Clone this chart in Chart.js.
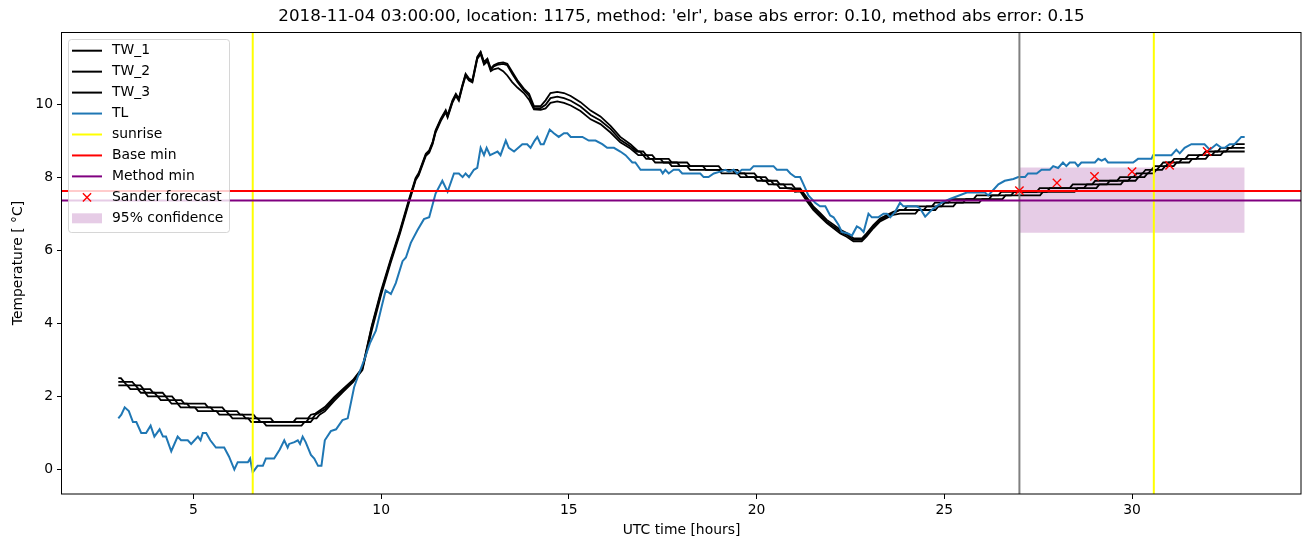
<!DOCTYPE html>
<html>
<head>
<meta charset="utf-8">
<script src="https://cdn.jsdelivr.net/npm/chart.js@4.4.0/dist/chart.umd.min.js"></script>
<style>
  html, body { margin: 0; padding: 0; background: #fff; }
  #wrap { width: 1310px; height: 547px; }
</style>
</head>
<body>
<div id="wrap"><canvas id="chart" width="1310" height="547"></canvas></div>
<script>
// ---- data ----
const TITLE = "2018-11-04 03:00:00, location: 1175, method: 'elr', base abs error: 0.10, method abs error: 0.15";

const X_MIN = 1.5, X_MAX = 34.5;
const Y_MIN = -0.67, Y_MAX = 11.97;
const xTicks = [5, 10, 15, 20, 25, 30];
const yTicks = [0, 2, 4, 6, 8, 10];

// wet bulb sensors (0.1 degree resolution, so flat runs with short steps)
const tw1Time = [
  3.00, 3.07, 3.15, 3.37, 3.45, 3.59, 3.67, 3.85, 3.93, 4.18, 4.26, 4.43, 4.51, 4.68, 4.76, 5.31,
  5.39, 5.77, 5.85, 6.16, 6.24, 6.60, 6.68, 7.06, 7.14, 7.66, 7.74, 8.05, 8.13, 8.25,
  8.50, 8.75, 9.00, 9.25, 9.50, 9.75, 10.00, 10.25, 10.50, 10.75, 10.92, 11.00, 11.19, 11.28, 11.37, 11.45,
  11.59, 11.72, 11.77, 11.90, 11.99, 12.07, 12.16, 12.25, 12.34, 12.43, 12.56, 12.65, 12.74, 12.83, 12.92, 13.00,
  13.12, 13.25, 13.36, 13.49, 13.63, 13.80, 13.94, 14.07, 14.25, 14.38, 14.51, 14.69, 14.87, 15.05, 15.31, 15.58,
  15.84, 16.11, 16.37, 16.64,
  16.85, 16.98, 17.06, 17.22, 17.30, 17.66, 17.74, 18.15, 18.23, 18.99, 19.07, 19.49, 19.57, 19.94, 20.02, 20.24,
  20.32, 20.54, 20.62, 20.94, 21.02, 21.16,
  21.34, 21.51, 21.69, 21.87, 22.05, 22.23, 22.40, 22.58, 22.80, 22.93, 23.11, 23.29, 23.47, 23.64, 23.82,
  23.93, 24.01, 24.67, 24.75, 25.11, 25.19, 25.78, 25.86, 26.44, 26.52, 27.46, 27.54, 28.34, 28.42, 28.94, 29.02,
  29.60, 29.68, 30.04, 30.12, 30.28, 30.36, 30.52, 30.60, 30.75, 30.83, 31.04, 31.12, 31.42, 31.50, 31.88, 31.96,
  32.28, 32.36, 32.65, 32.73, 33.00
];
const tw1 = [
  2.5, 2.5, 2.4, 2.4, 2.3, 2.3, 2.2, 2.2, 2.1, 2.1, 2.0, 2.0, 1.9, 1.9, 1.8, 1.8,
  1.7, 1.7, 1.6, 1.6, 1.5, 1.5, 1.4, 1.4, 1.3, 1.3, 1.4, 1.4, 1.5, 1.53,
  1.71, 1.98, 2.22, 2.45, 2.78, 3.93, 4.90, 5.74, 6.54, 7.42, 7.98, 8.11, 8.64, 8.73, 8.96, 9.28,
  9.60, 9.83, 9.69, 10.10, 10.28, 10.15, 10.51, 10.83, 10.70, 10.65, 11.29, 11.43, 11.15, 11.24, 10.97, 11.06,
  11.12, 11.14, 11.10, 10.88, 10.65, 10.42, 10.28, 9.94, 9.94, 10.10, 10.30, 10.33, 10.30, 10.22, 10.05, 9.82,
  9.66, 9.40, 9.10, 8.90,
  8.7, 8.7, 8.6, 8.6, 8.5, 8.5, 8.4, 8.4, 8.3, 8.3, 8.2, 8.2, 8.1, 8.1, 8.0, 8.0,
  7.9, 7.9, 7.8, 7.8, 7.7, 7.69,
  7.44, 7.20, 7.02, 6.83, 6.70, 6.56, 6.47, 6.33, 6.32, 6.46, 6.69, 6.87, 6.96, 7.05, 7.1,
  7.1, 7.2, 7.2, 7.3, 7.3, 7.4, 7.4, 7.5, 7.5, 7.6, 7.6, 7.7, 7.7, 7.8, 7.8, 7.9,
  7.9, 8.0, 8.0, 8.1, 8.1, 8.2, 8.2, 8.3, 8.3, 8.4, 8.4, 8.5, 8.5, 8.6, 8.6, 8.7,
  8.7, 8.8, 8.8, 8.9, 8.9
];

const tw2Time = [
  3.00, 3.15, 3.23, 3.46, 3.54, 3.65, 3.73, 3.96, 4.04, 4.26, 4.34, 4.51, 4.59, 4.83, 4.91, 5.46,
  5.54, 5.87, 5.95, 6.31, 6.39, 6.71, 6.79, 8.00, 8.08, 8.17, 8.25,
  8.50, 8.75, 9.00, 9.25, 9.50, 9.75, 10.00, 10.25, 10.50, 10.75, 10.92, 11.00, 11.19, 11.28, 11.37, 11.45,
  11.59, 11.72, 11.77, 11.90, 11.99, 12.07, 12.16, 12.25, 12.34, 12.43, 12.56, 12.65, 12.74, 12.83, 12.92, 13.00,
  13.12, 13.25, 13.36, 13.49, 13.63, 13.80, 13.94, 14.07, 14.25, 14.38, 14.51, 14.69, 14.87, 15.05, 15.31, 15.58,
  15.84, 16.11, 16.37, 16.64,
  16.80, 16.89, 16.97, 17.07, 17.15, 17.44, 17.52, 17.88, 17.96, 18.57, 18.65, 19.35, 19.43, 19.68, 19.76, 20.09,
  20.17, 20.38, 20.46, 20.72, 20.80, 21.16,
  21.34, 21.51, 21.69, 21.87, 22.05, 22.23, 22.40, 22.58, 22.80, 22.93, 23.11, 23.29, 23.47, 23.64, 23.82,
  24.45, 24.53, 24.93, 25.01, 25.50, 25.58, 26.19, 26.27, 26.78, 26.86, 27.73, 27.81, 28.72, 28.80, 29.33,
  29.41, 29.89, 29.97, 30.19, 30.27, 30.43, 30.51, 30.66, 30.74, 30.90, 30.98, 31.25, 31.33, 31.71, 31.79, 32.13,
  32.21, 32.50, 32.58, 33.00
];
const tw2 = [
  2.4, 2.4, 2.3, 2.3, 2.2, 2.2, 2.1, 2.1, 2.0, 2.0, 1.9, 1.9, 1.8, 1.8, 1.7, 1.7,
  1.6, 1.6, 1.5, 1.5, 1.4, 1.4, 1.3, 1.3, 1.4, 1.4, 1.5,
  1.65, 1.93, 2.18, 2.42, 2.75, 3.90, 4.85, 5.70, 6.50, 7.38, 7.95, 8.08, 8.61, 8.70, 8.93, 9.25,
  9.57, 9.80, 9.66, 10.07, 10.25, 10.12, 10.48, 10.80, 10.67, 10.62, 11.26, 11.41, 11.12, 11.21, 10.94, 11.03,
  11.08, 11.10, 11.06, 10.83, 10.60, 10.37, 10.22, 9.89, 9.89, 9.98, 10.16, 10.20, 10.16, 10.09, 9.93, 9.70,
  9.55, 9.32, 9.02, 8.84,
  8.7, 8.7, 8.6, 8.6, 8.5, 8.5, 8.4, 8.4, 8.3, 8.3, 8.2, 8.2, 8.1, 8.1, 8.0, 8.0,
  7.9, 7.9, 7.8, 7.8, 7.7, 7.65,
  7.38, 7.15, 6.97, 6.78, 6.65, 6.51, 6.42, 6.28, 6.28, 6.42, 6.65, 6.83, 6.92, 7.01, 7.1,
  7.1, 7.2, 7.2, 7.3, 7.3, 7.4, 7.4, 7.5, 7.5, 7.6, 7.6, 7.7, 7.7, 7.8, 7.8,
  7.9, 7.9, 8.0, 8.0, 8.1, 8.1, 8.2, 8.2, 8.3, 8.3, 8.4, 8.4, 8.5, 8.5, 8.6, 8.6,
  8.7, 8.7, 8.8, 8.8
];

const tw3Time = [
  3.00, 3.24, 3.32, 3.52, 3.60, 3.71, 3.79, 4.05, 4.13, 4.34, 4.42, 4.58, 4.66, 5.04, 5.12, 5.61,
  5.69, 5.96, 6.04, 6.46, 6.54, 6.86, 6.94, 7.88, 7.96, 8.12, 8.20, 8.28, 8.36,
  8.50, 8.75, 9.00, 9.25, 9.50, 9.75, 10.00, 10.25, 10.50, 10.75, 10.92, 11.00, 11.19, 11.28, 11.37, 11.45,
  11.59, 11.72, 11.77, 11.90, 11.99, 12.07, 12.16, 12.25, 12.34, 12.43, 12.56, 12.65, 12.74, 12.83, 12.92, 13.00,
  13.12, 13.25, 13.36, 13.49, 13.63, 13.80, 13.94, 14.07, 14.25, 14.38, 14.51, 14.69, 14.87, 15.05, 15.31, 15.58,
  15.84, 16.11, 16.37, 16.64,
  16.85, 16.98, 17.06, 17.22, 17.30, 17.66, 17.74, 18.15, 18.23, 18.99, 19.07, 19.49, 19.57, 19.94, 20.02, 20.24,
  20.32, 20.54, 20.62, 20.94, 21.02, 21.16,
  21.34, 21.51, 21.69, 21.87, 22.05, 22.23, 22.40, 22.58, 22.80, 22.93, 23.11, 23.29, 23.47, 23.64, 23.82,
  24.23, 24.31, 24.76, 24.84, 25.24, 25.32, 25.93, 26.01, 26.55, 26.63, 27.55, 27.63, 28.47, 28.55, 29.05, 29.13,
  29.70, 29.78, 30.09, 30.17, 30.33, 30.41, 30.57, 30.65, 30.80, 30.88, 31.11, 31.19, 31.52, 31.60, 31.96, 32.04,
  32.36, 32.44, 33.00
];
const tw3 = [
  2.3, 2.3, 2.2, 2.2, 2.1, 2.1, 2.0, 2.0, 1.9, 1.9, 1.8, 1.8, 1.7, 1.7, 1.6, 1.6,
  1.5, 1.5, 1.4, 1.4, 1.3, 1.3, 1.2, 1.2, 1.3, 1.3, 1.4, 1.4, 1.5,
  1.59, 1.88, 2.14, 2.39, 2.72, 3.80, 4.78, 5.64, 6.45, 7.33, 7.92, 8.05, 8.58, 8.67, 8.90, 9.22,
  9.54, 9.77, 9.63, 10.04, 10.22, 10.09, 10.45, 10.77, 10.64, 10.59, 11.23, 11.37, 11.08, 11.17, 10.90, 10.95,
  10.98, 10.90, 10.78, 10.60, 10.45, 10.30, 10.12, 9.85, 9.84, 9.88, 10.03, 10.07, 10.03, 9.96, 9.81, 9.58,
  9.45, 9.22, 8.95, 8.78,
  8.6, 8.6, 8.5, 8.5, 8.4, 8.4, 8.3, 8.3, 8.2, 8.2, 8.1, 8.1, 8.0, 8.0, 7.9, 7.9,
  7.8, 7.8, 7.7, 7.7, 7.6, 7.61,
  7.34, 7.10, 6.92, 6.74, 6.60, 6.46, 6.37, 6.24, 6.24, 6.38, 6.60, 6.79, 6.88, 6.97, 7.0,
  7.0, 7.1, 7.1, 7.2, 7.2, 7.3, 7.3, 7.4, 7.4, 7.5, 7.5, 7.6, 7.6, 7.7, 7.7, 7.8,
  7.8, 7.9, 7.9, 8.0, 8.0, 8.1, 8.1, 8.2, 8.2, 8.3, 8.3, 8.4, 8.4, 8.5, 8.5, 8.6,
  8.6, 8.7, 8.7
];

// air temperature
const tlTime = [
  3.00, 3.08, 3.17, 3.28, 3.39, 3.48, 3.61, 3.74, 3.86, 3.96, 4.10, 4.19, 4.27, 4.41, 4.58, 4.67,
  4.85, 4.94, 5.12, 5.19, 5.25, 5.34, 5.45, 5.60, 5.82, 5.95, 6.09, 6.18, 6.45, 6.51, 6.58, 6.71,
  6.85, 6.93, 7.15, 7.30, 7.42, 7.51, 7.55, 7.69, 7.78, 7.84, 7.91, 7.99, 8.13, 8.22, 8.32, 8.41,
  8.50, 8.66, 8.80, 8.97, 9.11, 9.28, 9.40, 9.55, 9.70, 9.86, 10.00, 10.12, 10.26, 10.39, 10.57, 10.66,
  10.79, 10.97, 11.14, 11.28, 11.45, 11.63, 11.77, 11.94, 12.07, 12.17, 12.25, 12.34, 12.47, 12.56,
  12.65, 12.74, 12.81, 12.90, 13.00, 13.10, 13.18, 13.32, 13.40, 13.54, 13.76, 13.89, 13.98, 14.09,
  14.16, 14.25, 14.33, 14.49, 14.60, 14.73, 14.87, 14.96, 15.05, 15.36, 15.53, 15.71, 15.89, 16.02,
  16.20, 16.37, 16.51, 16.69, 16.77, 16.91, 17.17, 17.44, 17.50, 17.57, 17.66, 17.79, 17.93, 18.02,
  18.50, 18.59, 18.72, 18.86, 19.03, 19.17, 19.26, 19.39, 19.48, 19.61, 19.83, 19.92, 20.45, 20.54,
  20.81, 20.90, 21.03, 21.16, 21.25, 21.38, 21.56, 21.69, 21.83, 21.96, 22.05, 22.18, 22.27, 22.45,
  22.54, 22.67, 22.76, 22.85, 22.98, 23.07, 23.24, 23.38, 23.47, 23.56, 23.69, 23.82, 23.91, 24.27,
  24.35, 24.49, 24.66, 24.93, 25.15, 25.60, 26.08, 26.17, 26.26, 26.44, 26.61, 26.84, 26.97, 27.15,
  27.23, 27.46, 27.59, 27.81, 27.90, 28.03, 28.16, 28.25, 28.34, 28.48, 28.56, 28.65, 29.01, 29.10,
  29.19, 29.28, 29.36, 30.03, 30.16, 30.52, 30.56, 31.05, 31.18, 31.27, 31.40, 31.58, 31.93, 32.07,
  32.25, 32.38, 32.47, 32.60, 32.73, 32.91, 33.00
];
const tl = [
  1.40, 1.50, 1.70, 1.60, 1.30, 1.30, 1.00, 1.00, 1.20, 0.90, 1.10, 0.90, 0.90, 0.50, 0.90, 0.80,
  0.80, 0.70, 0.90, 0.80, 1.00, 1.00, 0.80, 0.60, 0.60, 0.35, 0.00, 0.20, 0.20, 0.30, -0.08, 0.10,
  0.10, 0.30, 0.30, 0.55, 0.80, 0.60, 0.70, 0.75, 0.80, 0.70, 0.90, 0.75, 0.40, 0.30, 0.10, 0.10,
  0.80, 1.05, 1.10, 1.35, 1.40, 2.25, 2.60, 3.00, 3.45, 3.80, 4.40, 4.90, 4.80, 5.10, 5.70, 5.80,
  6.20, 6.55, 6.85, 6.90, 7.55, 7.90, 7.60, 8.10, 8.10, 8.00, 8.10, 8.00, 8.20, 8.25,
  8.80, 8.60, 8.80, 8.60, 8.65, 8.70, 8.60, 9.00, 8.80, 8.70, 8.90, 8.90, 8.80, 9.00,
  9.10, 8.90, 8.90, 9.30, 9.20, 9.10, 9.20, 9.20, 9.10, 9.10, 9.00, 9.00, 8.90, 8.80,
  8.80, 8.70, 8.60, 8.40, 8.40, 8.20, 8.20, 8.20, 8.10, 8.20, 8.10, 8.20, 8.20, 8.10,
  8.10, 8.00, 8.00, 8.10, 8.15, 8.20, 8.15, 8.20, 8.10, 8.20, 8.20, 8.30, 8.30, 8.20,
  8.20, 8.10, 8.00, 8.00, 7.80, 7.50, 7.30, 7.20, 7.20, 6.95, 6.90, 6.70, 6.50, 6.45,
  6.40, 6.65, 6.60, 6.50, 7.00, 6.90, 6.90, 7.00, 7.00, 6.90, 7.05, 7.30, 7.20, 7.20,
  7.15, 6.92, 7.10, 7.30, 7.40, 7.58, 7.58, 7.50, 7.60, 7.80, 7.90, 7.95, 8.00, 8.00,
  8.10, 8.10, 8.20, 8.20, 8.30, 8.25, 8.40, 8.30, 8.40, 8.40, 8.30, 8.40, 8.40, 8.50,
  8.45, 8.50, 8.40, 8.40, 8.50, 8.50, 8.60, 8.60, 8.75, 8.65, 8.80, 8.90, 8.90, 8.75,
  8.90, 8.80, 8.80, 8.90, 8.90, 9.10, 9.10
];

const sunriseTimes = [6.58, 30.58];
const forecastStart = 27;
const baseMin = 7.62;
const methodMin = 7.36;

const sanderTime = [27, 28, 29, 30, 31, 32];
const sanderTemp = [7.63, 7.84, 8.02, 8.15, 8.32, 8.70];

const confTime = [27, 33];
const confLow = 6.48;
const confHigh = 8.26;

// ---- build datasets ----
const FONT = "'DejaVu Sans', Verdana, sans-serif";
const pts = (xs, ys) => xs.map((x, i) => ({ x: x, y: ys[i] }));

function lineSet(label, data, color, order, extra) {
  return Object.assign({
    label: label,
    data: data,
    borderColor: color,
    backgroundColor: color,
    borderWidth: 2,
    pointRadius: 0,
    tension: 0,
    fill: false,
    order: order
  }, extra || {});
}

const datasets = [
  lineSet('TW_1', pts(tw1Time, tw1), '#000000', 20, { inLegend: true, borderWidth: 1.8 }),
  lineSet('TW_2', pts(tw2Time, tw2), '#000000', 19, { inLegend: true, borderWidth: 1.8 }),
  lineSet('TW_3', pts(tw3Time, tw3), '#000000', 18, { inLegend: true, borderWidth: 1.8 }),
  lineSet('TL', pts(tlTime, tl), '#1f77b4', 17, { inLegend: true }),
  lineSet('forecast start', [{ x: forecastStart, y: Y_MIN }, { x: forecastStart, y: Y_MAX }], '#808080', 16)
];
sunriseTimes.forEach((t, i) => {
  datasets.push(lineSet('sunrise', [{ x: t, y: Y_MIN }, { x: t, y: Y_MAX }], '#ffff00', 15 - i,
    { inLegend: i === 0 }));
});
datasets.push(
  lineSet('Base min', [{ x: X_MIN, y: baseMin }, { x: X_MAX, y: baseMin }], '#ff0000', 12, { inLegend: true }),
  lineSet('Method min', [{ x: X_MIN, y: methodMin }, { x: X_MAX, y: methodMin }], '#800080', 11, { inLegend: true }),
  {
    label: 'Sander forecast',
    data: pts(sanderTime, sanderTemp),
    showLine: false,
    pointStyle: 'crossRot',
    pointRadius: 5.9,
    pointBorderWidth: 1.4,
    borderColor: '#ff0000',
    backgroundColor: '#ff0000',
    order: 10,
    inLegend: true,
    marker: true
  },
  {
    label: '95% confidence',
    data: confTime.map(t => ({ x: t, y: confHigh })),
    borderWidth: 0,
    pointRadius: 0,
    borderColor: 'rgba(0,0,0,0)',
    backgroundColor: 'rgba(128,0,128,0.2)',
    fill: { value: confLow },
    order: 50,
    inLegend: true,
    patch: true
  }
);

// ---- plugin: title, frame, legend inside the axes ----
const decorations = {
  id: 'decorations',
  afterDraw(chart) {
    const ctx = chart.ctx;
    const a = chart.chartArea;
    ctx.save();

    // frame
    ctx.strokeStyle = '#000';
    ctx.lineWidth = 1;
    ctx.strokeRect(Math.round(a.left) - 0.5, Math.round(a.top) + 0.5,
      Math.round(a.right - a.left) + 0.5, Math.round(a.bottom - a.top) - 0.5);

    // title
    ctx.fillStyle = '#000';
    ctx.font = '16.7px ' + FONT;
    ctx.textAlign = 'center';
    ctx.textBaseline = 'middle';
    ctx.fillText(TITLE, (a.left + a.right) / 2, 17);

    // legend
    const items = chart.data.datasets.filter(d => d.inLegend);
    const bx = 68.5, by = 39.5, bw = 161, bh = 193, rowH = 20.95;
    ctx.beginPath();
    ctx.roundRect(bx, by, bw, bh, 3);
    ctx.fillStyle = 'rgba(255,255,255,0.8)';
    ctx.fill();
    ctx.strokeStyle = 'rgba(204,204,204,0.8)';
    ctx.stroke();

    ctx.font = '13.9px ' + FONT;
    ctx.textAlign = 'left';
    items.forEach((d, i) => {
      const cy = 50.7 + i * rowH;
      if (d.patch) {
        ctx.fillStyle = d.backgroundColor;
        ctx.fillRect(72, cy - 5, 30, 10);
      } else if (d.marker) {
        ctx.strokeStyle = d.borderColor;
        ctx.lineWidth = 1.4;
        const r = 4.1;
        ctx.beginPath();
        ctx.moveTo(87 - r, cy - r); ctx.lineTo(87 + r, cy + r);
        ctx.moveTo(87 - r, cy + r); ctx.lineTo(87 + r, cy - r);
        ctx.stroke();
      } else {
        ctx.strokeStyle = d.borderColor;
        ctx.lineWidth = 2;
        ctx.beginPath();
        ctx.moveTo(72, cy); ctx.lineTo(102, cy);
        ctx.stroke();
      }
      ctx.fillStyle = '#000';
      ctx.fillText(d.label, 112, cy);
    });
    ctx.restore();
  }
};

const tickFont = { family: FONT, size: 13.9 };

new Chart(document.getElementById('chart'), {
  type: 'line',
  data: { datasets: datasets },
  plugins: [decorations],
  options: {
    responsive: false,
    animation: false,
    events: [],
    layout: { padding: { left: 0, right: 9, top: 32, bottom: 0 } },
    plugins: {
      legend: { display: false },
      title: { display: false },
      tooltip: { enabled: false }
    },
    scales: {
      x: {
        type: 'linear',
        min: X_MIN,
        max: X_MAX,
        afterBuildTicks: s => { s.ticks = xTicks.map(v => ({ value: v })); },
        afterFit: s => { s.height = 53; },
        border: { display: false },
        grid: { display: true, drawOnChartArea: false, drawTicks: true, tickLength: 5, tickColor: '#000', tickWidth: 1 },
        ticks: { font: tickFont, color: '#000', padding: 3, maxRotation: 0, autoSkip: false },
        title: { display: true, text: 'UTC time [hours]', font: tickFont, color: '#000', padding: { top: 0, bottom: 8.5 } }
      },
      y: {
        type: 'linear',
        min: Y_MIN,
        max: Y_MAX,
        afterBuildTicks: s => { s.ticks = yTicks.map(v => ({ value: v })); },
        afterFit: s => { s.width = 62; },
        border: { display: false },
        grid: { display: true, drawOnChartArea: false, drawTicks: true, tickLength: 5, tickColor: '#000', tickWidth: 1 },
        ticks: { font: tickFont, color: '#000', padding: 4, autoSkip: false },
        title: { display: true, text: 'Temperature [ \u00b0C]', font: tickFont, color: '#000', padding: { top: 10, bottom: 0 } }
      }
    }
  }
});
</script>
</body>
</html>
